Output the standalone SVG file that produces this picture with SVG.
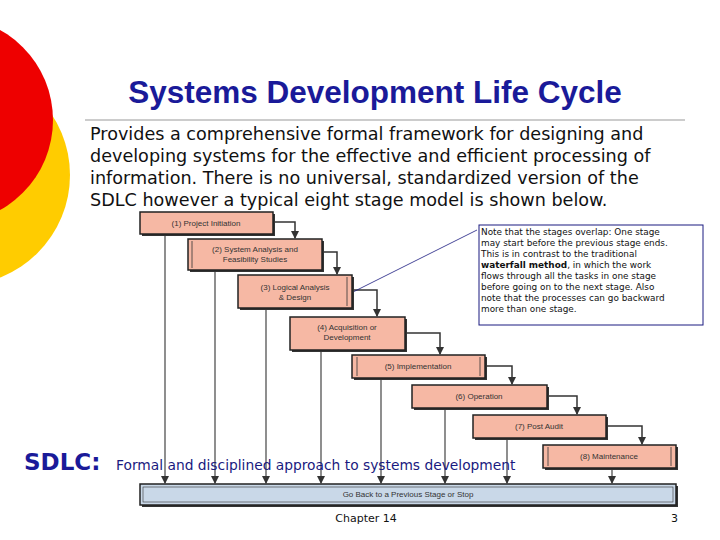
<svg xmlns="http://www.w3.org/2000/svg" width="720" height="540" viewBox="0 0 720 540">
<defs>
<marker id="ah" markerWidth="8" markerHeight="8" refX="7" refY="4" orient="auto" markerUnits="userSpaceOnUse"><path d="M0,0 L8,4 L0,8 z" fill="#333"/></marker>
<style>
.st{fill:#f6b8a4;stroke:#222;stroke-width:1.5}
.sh{fill:#333}
.in{fill:none;stroke:#333;stroke-width:0.8}
.bt{font-family:"Liberation Sans",Arial,sans-serif;font-size:8px;fill:#333;text-anchor:middle}
.c{fill:none;stroke:#333;stroke-width:1.5}
.v{fill:none;stroke:#444;stroke-width:1.2}
</style>
</defs>
<rect width="720" height="540" fill="#fff"/>
<circle cx="-40" cy="175" r="110" fill="#ffcc00"/>
<circle cx="-50" cy="120" r="103" fill="#ee0000"/>
<text x="375" y="103" font-family="Liberation Sans,Arial,sans-serif" font-weight="bold" font-size="31.5" fill="#1a1a99" text-anchor="middle">Systems Development Life Cycle</text>
<line x1="85" y1="120" x2="685" y2="120" stroke="#999" stroke-width="1"/>
<g font-family="DejaVu Sans,Verdana,sans-serif" font-size="17.6" fill="#111">
<text x="90" y="140">Provides a comprehensive formal framework for designing and</text>
<text x="90" y="162">developing systems for the effective and efficient processing of</text>
<text x="90" y="184">information. There is no universal, standardized version of the</text>
<text x="90" y="206">SDLC however a typical eight stage model is shown below.</text>
</g>
<g id="connectors">
<polyline class="c" points="273,222 295,222 295,238" marker-end="url(#ah)"/>
<polyline class="c" points="322,252 337,252 337,274" marker-end="url(#ah)"/>
<polyline class="c" points="352,290 377,290 377,316" marker-end="url(#ah)"/>
<polyline class="c" points="405,333 440,333 440,354" marker-end="url(#ah)"/>
<polyline class="c" points="485,366 512,366 512,384" marker-end="url(#ah)"/>
<polyline class="c" points="547,396 577,396 577,414" marker-end="url(#ah)"/>
<polyline class="c" points="606,426 642,426 642,444" marker-end="url(#ah)"/>
<line class="v" x1="165" y1="234" x2="165" y2="483" marker-end="url(#ah)"/>
<line class="v" x1="215" y1="270" x2="215" y2="483" marker-end="url(#ah)"/>
<line class="v" x1="266" y1="308" x2="266" y2="483" marker-end="url(#ah)"/>
<line class="v" x1="321" y1="350" x2="321" y2="483" marker-end="url(#ah)"/>
<line class="v" x1="381" y1="378" x2="381" y2="483" marker-end="url(#ah)"/>
<line class="v" x1="445" y1="408" x2="445" y2="483" marker-end="url(#ah)"/>
<line class="v" x1="507" y1="438" x2="507" y2="483" marker-end="url(#ah)"/>
<line class="v" x1="612" y1="468" x2="612" y2="483" marker-end="url(#ah)"/>
<line x1="353" y1="292" x2="477" y2="230" stroke="#1a1a80" stroke-width="0.8"/>
</g>
<g id="s1"><rect class="sh" x="142" y="214" width="133" height="22"/><rect class="st" x="140" y="212" width="133" height="22"/><text class="bt" x="206" y="226">(1) Project Initiation</text></g>
<g id="s2"><rect class="sh" x="190" y="241" width="134" height="31"/><rect class="st" x="188" y="239" width="134" height="31"/><line class="in" x1="192" y1="241" x2="192" y2="268"/><text class="bt" x="255" y="252">(2) System Analysis and</text><text class="bt" x="255" y="262">Feasibility Studies</text></g>
<g id="s3"><rect class="sh" x="240" y="277" width="114" height="33"/><rect class="st" x="238" y="275" width="114" height="33"/><line class="in" x1="347" y1="277" x2="347" y2="306"/><text class="bt" x="295" y="290">(3) Logical Analysis</text><text class="bt" x="295" y="300">&amp; Design</text></g>
<g id="s4"><rect class="sh" x="292" y="319" width="115" height="33"/><rect class="st" x="290" y="317" width="115" height="33"/><text class="bt" x="347" y="330">(4) Acquisition or</text><text class="bt" x="347" y="340">Development</text></g>
<g id="s5"><rect class="sh" x="354" y="357" width="133" height="23"/><rect class="st" x="352" y="355" width="133" height="23"/><line class="in" x1="357" y1="357" x2="357" y2="376"/><line class="in" x1="480" y1="357" x2="480" y2="376"/><text class="bt" x="418" y="369">(5) Implementation</text></g>
<g id="s6"><rect class="sh" x="414" y="387" width="135" height="23"/><rect class="st" x="412" y="385" width="135" height="23"/><text class="bt" x="479" y="399">(6) Operation</text></g>
<g id="s7"><rect class="sh" x="475" y="417" width="133" height="23"/><rect class="st" x="473" y="415" width="133" height="23"/><text class="bt" x="539" y="429">(7) Post Audit</text></g>
<g id="s8"><rect class="sh" x="545" y="447" width="133" height="23"/><rect class="st" x="543" y="445" width="133" height="23"/><line class="in" x1="548" y1="447" x2="548" y2="466"/><line class="in" x1="671" y1="447" x2="671" y2="466"/><text class="bt" x="609" y="459">(8) Maintenance</text></g>
<g id="bar"><rect class="sh" x="142" y="486" width="536" height="21"/><rect x="140" y="484" width="536" height="21" fill="#c9d8e8" stroke="#222" stroke-width="1.5"/><rect x="143" y="487" width="530" height="15" fill="none" stroke="#333" stroke-width="0.6"/><text class="bt" x="408" y="497">Go Back to a Previous Stage or Stop</text></g>
<g id="note"><rect x="479" y="225" width="224" height="100" fill="#fff" stroke="#1a1a80" stroke-width="1"/>
<g font-family="DejaVu Sans,Verdana,sans-serif" font-size="8.9" fill="#111">
<text x="481" y="235">Note that the stages overlap: One stage</text>
<text x="481" y="246">may start before the previous stage ends.</text>
<text x="481" y="257">This is in contrast to the traditional</text>
<text x="481" y="268"><tspan font-weight="bold">waterfall method</tspan>, in which the work</text>
<text x="481" y="279">flows through all the tasks in one stage</text>
<text x="481" y="290">before going on to the next stage. Also</text>
<text x="481" y="301">note that the processes can go backward</text>
<text x="481" y="312">more than one stage.</text>
</g></g>
<text x="24" y="470" font-family="DejaVu Sans,Verdana,sans-serif" font-weight="bold" font-size="23" fill="#1a1a99">SDLC:</text>
<text x="116" y="470" font-family="DejaVu Sans,Verdana,sans-serif" font-size="13.8" fill="#1a1a80">Formal and disciplined approach to systems development</text>
<text x="366" y="522" font-family="DejaVu Sans,Verdana,sans-serif" font-size="11" fill="#111" text-anchor="middle">Chapter 14</text>
<text x="678" y="522" font-family="DejaVu Sans,Verdana,sans-serif" font-size="11" fill="#111" text-anchor="end">3</text>
</svg>
